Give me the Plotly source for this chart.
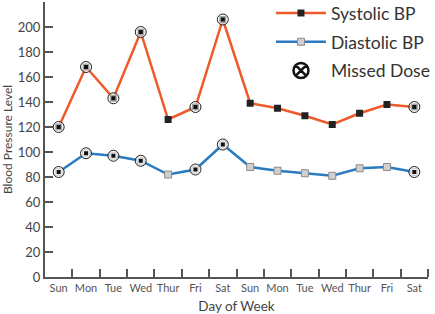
import plotly.graph_objects as go

days = ["Sun", "Mon", "Tue", "Wed", "Thur", "Fri", "Sat",
        "Sun", "Mon", "Tue", "Wed", "Thur", "Fri", "Sat"]
systolic = [120, 168, 143, 196, 126, 136, 206, 139, 135, 129, 122, 131, 138, 136]
diastolic = [84, 99, 97, 93, 82, 86, 106, 88, 85, 83, 81, 87, 88, 84]
missed = [True, True, True, True, False, True, True,
          False, False, False, False, False, False, True]

x = list(range(len(days)))
mx_s = [i for i in x if missed[i]]
my_s = [systolic[i] for i in x if missed[i]]
my_d = [diastolic[i] for i in x if missed[i]]

ORANGE = "#EF5A2A"
BLUE = "#2B7BC0"
AX = "#555555"
FONT = "Lato"

fig = go.Figure()
fig.add_trace(go.Scatter(
    x=x, y=systolic, mode="lines+markers", name="Systolic BP", legendgroup="s",
    line=dict(color=ORANGE, width=2.5),
    marker=dict(symbol="square", size=7, color="#222222",
                line=dict(color="#222222", width=0))))
fig.add_trace(go.Scatter(
    x=x, y=diastolic, mode="lines+markers", name="Diastolic BP", legendgroup="d",
    line=dict(color=BLUE, width=2.5),
    marker=dict(symbol="square", size=7, color="#D0D0D0",
                line=dict(color="#8A8A8A", width=1))))
# missed dose overlay
for ys in (my_s, my_d):
    fig.add_trace(go.Scatter(
        x=mx_s, y=ys, mode="markers", showlegend=False, hoverinfo="skip",
        marker=dict(symbol="circle", size=11, color="rgba(255,255,255,0.6)",
                    line=dict(color="#222222", width=1))))
    fig.add_trace(go.Scatter(
        x=mx_s, y=ys, mode="markers", showlegend=False, hoverinfo="skip",
        marker=dict(symbol="square", size=4, color="#111111")))
fig.add_trace(go.Scatter(
    x=[None], y=[None], mode="markers", name="Missed Dose", legendgroup="m",
    marker=dict(symbol="circle-x-open", size=15, color="#111111",
                line=dict(color="#111111", width=2.5))))

fig.update_layout(
    width=435, height=314,
    margin=dict(l=45, r=7, t=2, b=37, autoexpand=False),
    plot_bgcolor="white", paper_bgcolor="white",
    font=dict(family=FONT, color="#333333"),
    legend=dict(x=0.59, y=1.025, xanchor="left", yanchor="top",
                font=dict(size=17.5, color="#333333", family=FONT),
                itemwidth=50, tracegroupgap=3, bgcolor="rgba(0,0,0,0)"),
    xaxis=dict(range=[-0.5, 13.5], tickmode="array", tickvals=x, ticktext=days,
               ticks="", showgrid=False, zeroline=False,
               showline=True, linecolor=AX, linewidth=2,
               tickfont=dict(size=11, color="#555555"),
               minor=dict(ticks="inside", ticklen=8, tickwidth=1.5, tickcolor=AX,
                          tickmode="array", tickvals=[i + 0.5 for i in x],
                          showgrid=False),
               title=dict(text="Day of Week", font=dict(size=13.5, color="#444444"),
                          standoff=9)),
    yaxis=dict(range=[0, 220], dtick=20, ticks="inside", ticklen=8, tickwidth=1.5,
               tickcolor=AX, showgrid=False, zeroline=False,
               showline=True, linecolor=AX, linewidth=2,
               tickfont=dict(size=13, color="#444444"),
               title=dict(text="Blood Pressure Level", font=dict(size=12, color="#444444"),
                          standoff=4)),
)

fig.write_html("out.html")
